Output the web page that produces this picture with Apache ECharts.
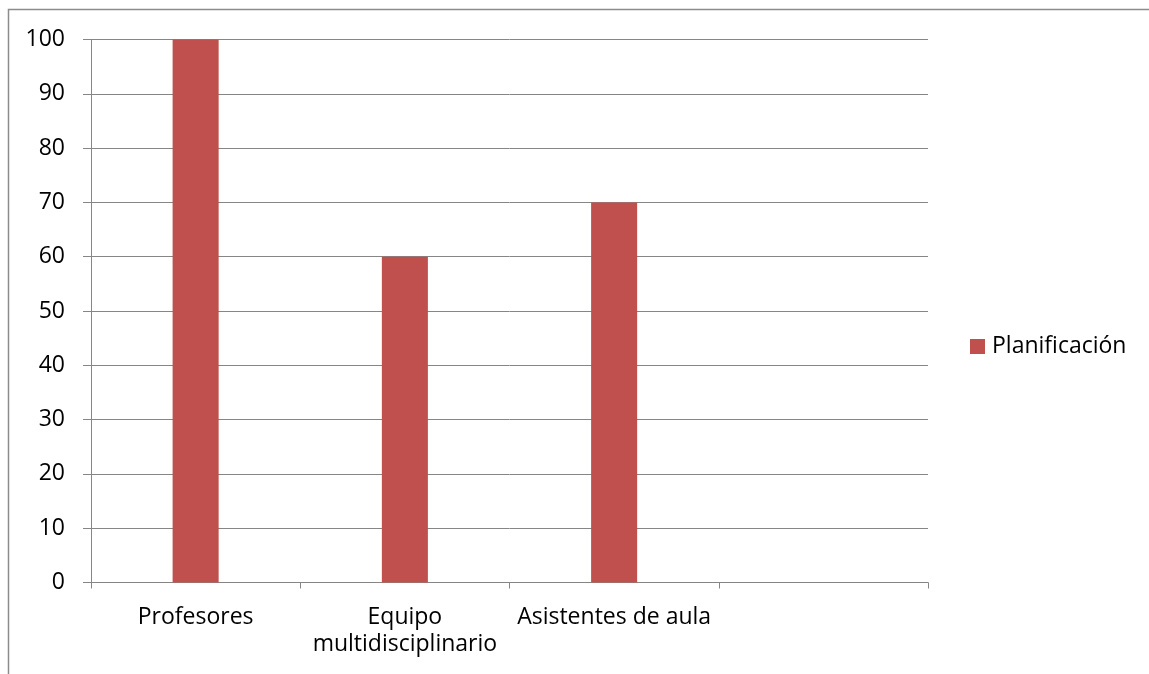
<!DOCTYPE html>
<html>
<head>
<meta charset="utf-8">
<script src="https://cdn.jsdelivr.net/npm/echarts@6/dist/echarts.min.js"></script>
<style>html,body{margin:0;padding:0;background:#fff;}#c{width:1149px;height:674px;}</style>
</head>
<body>
<div id="c"></div>
<script>
const categories = ['Profesores', 'Equipo\nmultidisciplinario', 'Asistentes de aula', ''];
const planificacion = [100, 60, 70, null];
const seriesName = 'Planificación';
const yMin = 0, yMax = 100, yInterval = 10;

const FONT = '"Open Sans", sans-serif';
const FS = 23;
const chart = echarts.init(document.getElementById('c'), null, {renderer: 'canvas'});
chart.setOption({
  animation: false,
  backgroundColor: '#fff',
  graphic: [{
    type: 'rect',
    shape: {x: 8.5, y: 9.5, width: 1200, height: 700},
    style: {fill: 'none', stroke: '#8c8c8c', lineWidth: 1.5}
  }],
  grid: {left: 91, right: 221, top: 39.5, bottom: 91.5, containLabel: false},
  legend: {
    left: 970, top: 335, orient: 'vertical', padding: 0,
    itemWidth: 15, itemHeight: 15, icon: 'rect',
    textStyle: {fontFamily: FONT, fontSize: FS, color: '#000', padding: [0, 0, 0, 2]},
    data: [seriesName]
  },
  xAxis: {
    type: 'category', data: categories, boundaryGap: true,
    axisLine: {lineStyle: {color: '#868686', width: 1}},
    axisTick: {show: true, length: 6, interval: 0, alignWithLabel: false, lineStyle: {color: '#868686'}},
    axisLabel: {interval: 0, margin: 21, fontFamily: FONT, fontSize: FS, color: '#000', lineHeight: 27}
  },
  yAxis: {
    type: 'value', min: yMin, max: yMax, interval: yInterval,
    axisLine: {show: true, lineStyle: {color: '#868686', width: 1}},
    axisTick: {show: true, length: 8, lineStyle: {color: '#868686'}},
    axisLabel: {margin: 26, fontFamily: FONT, fontSize: FS, color: '#000'},
    splitLine: {show: true, lineStyle: {color: '#868686', width: 1}}
  },
  series: [{
    name: seriesName, type: 'bar', data: planificacion,
    barWidth: '22%', itemStyle: {color: '#C0504D'}
  }]
});
</script>
</body>
</html>
